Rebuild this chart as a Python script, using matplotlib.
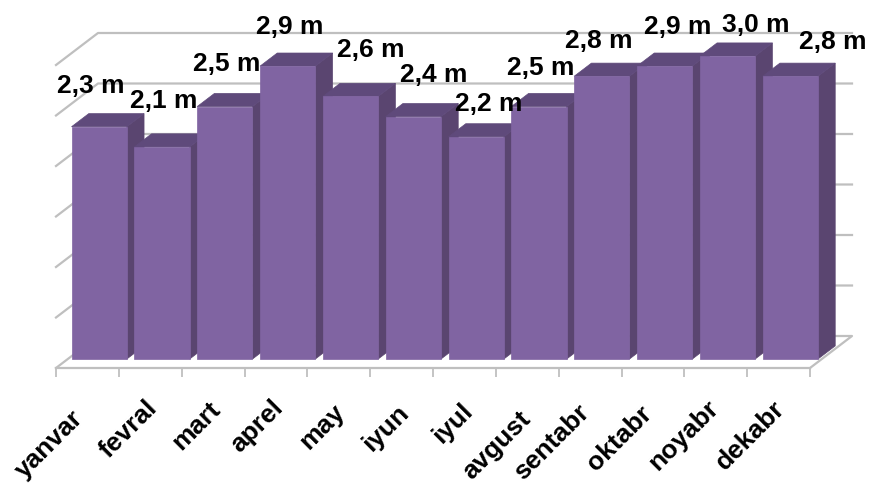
import numpy as np
import matplotlib.pyplot as plt
from matplotlib.patches import Polygon
from matplotlib.transforms import ScaledTranslation

plt.rcParams['font.family'] = ['Liberation Sans', 'DejaVu Sans']

months = ['yanvar', 'fevral', 'mart', 'aprel', 'may', 'iyun', 'iyul',
          'avgust', 'sentabr', 'oktabr', 'noyabr', 'dekabr']
values = [2.3, 2.1, 2.5, 2.9, 2.6, 2.4, 2.2, 2.5, 2.8, 2.9, 3.0, 2.8]
labels = ['2,3 m', '2,1 m', '2,5 m', '2,9 m', '2,6 m', '2,4 m',
          '2,2 m', '2,5 m', '2,8 m', '2,9 m', '3,0 m', '2,8 m']
grid_levels = [0, 0.5, 1.0, 1.5, 2.0, 2.5, 3.0]

# hand placed offsets of the value labels, in pixels from the bar's front top centre
label_dx = [-8, 2, 2, 2, 20, 20, 13, 2, -3, 13, 28, 42]
label_dy = [41, 46, 43, 39, 46, 42, 33, 39, 35, 39, 31, 34]
# same for the month labels, pixels from the tick position
month_dx = [-17, -5, -5, -5, -6, -5, -4, -9, -13, -13, -9, -6]
month_dy = [-7, 3, 1, 3, -1, -2, 0, -8, -2, -3, 3, 2]

FRONT = '#8064a2'
SIDE = '#5a4570'
TOP = '#5f4a7b'
GRID = '#bfbfbf'

W, H = 870, 484
fig = plt.figure(figsize=(W / 100, H / 100), dpi=100)
ax = fig.add_axes([56 / W, (H - 368) / H, (810 - 56) / W, 303 / H])
ax.set_xlim(0, 12)
ax.set_ylim(0, 3)

# oblique projection: depth 0 is the front plane, depth 1 the back wall
xu = (810 - 56) / 12
yu = 303 / 3
depth_x = 42 / xu
depth_y = 32 / yu


def proj(x, y, d):
    return (x + d * depth_x, y + d * depth_y)


for g in grid_levels:
    pts = [proj(0, g, 0), proj(0, g, 1), proj(12, g, 1)]
    if g == 0:
        pts = pts + [proj(12, g, 0)]
    ax.plot(*zip(*pts), color=GRID, lw=1.6, zorder=1, clip_on=False)

d0, d1 = 0.28, 0.69
w = 0.88
for i, v in enumerate(values):
    x0 = i + 0.06
    x1 = x0 + w
    ax.add_patch(Polygon([proj(x1, 0, d0), proj(x1, 0, d1), proj(x1, v, d1), proj(x1, v, d0)],
                         fc=SIDE, ec=SIDE, lw=0.5, zorder=2 + i, clip_on=False))
    ax.add_patch(Polygon([proj(x0, v, d0), proj(x0, v, d1), proj(x1, v, d1), proj(x1, v, d0)],
                         fc=TOP, ec=TOP, lw=0.5, zorder=2 + i, clip_on=False))
    ax.add_patch(Polygon([proj(x0, 0, d0), proj(x1, 0, d0), proj(x1, v, d0), proj(x0, v, d0)],
                         fc=FRONT, ec=FRONT, lw=0.5, zorder=2 + i, clip_on=False))
    ax.annotate(labels[i], xy=proj(i + 0.5, v, d0), xytext=(label_dx[i] * 0.72, label_dy[i] * 0.72),
                textcoords='offset points', ha='center', va='center', annotation_clip=False,
                fontsize=19, fontweight='bold', color='black', zorder=30)

for name, spine in ax.spines.items():
    spine.set_visible(name == 'bottom')
ax.spines['bottom'].set_color(GRID)
ax.spines['bottom'].set_linewidth(1.6)
ax.patch.set_visible(False)

ax.set_yticks([])
ax.set_xticks(np.arange(13))
ax.set_xticklabels([])
ax.tick_params(axis='x', which='major', length=6.5, width=1.3, color=GRID)
ax.set_xticks(np.arange(12) + 0.5, minor=True)
ax.set_xticklabels(months, minor=True, rotation=45, ha='right', va='top',
                   rotation_mode='anchor', fontsize=19, fontweight='bold')
ax.tick_params(axis='x', which='minor', length=0, pad=22)
for lab, dx, dy in zip(ax.get_xticklabels(minor=True), month_dx, month_dy):
    lab.set_transform(lab.get_transform() + ScaledTranslation(dx / 100, dy / 100, fig.dpi_scale_trans))

fig.savefig('out.png', dpi=100)
